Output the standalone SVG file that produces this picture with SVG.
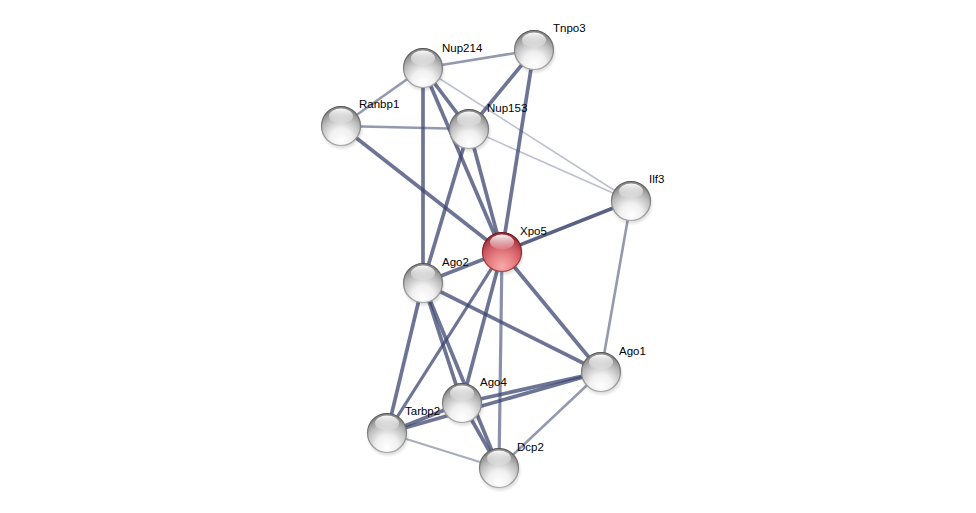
<svg xmlns="http://www.w3.org/2000/svg" width="976" height="513" viewBox="0 0 976 513">
<defs>
<radialGradient id="gBall" cx="50%" cy="80%" r="72%" fx="50%" fy="88%">
<stop offset="0" stop-color="#ffffff"/>
<stop offset="0.4" stop-color="#f0f0f0"/>
<stop offset="0.75" stop-color="#bdbdbd"/>
<stop offset="1" stop-color="#8a8a8a"/>
</radialGradient>
<radialGradient id="rBall" cx="50%" cy="80%" r="72%" fx="50%" fy="88%">
<stop offset="0" stop-color="#f8aaaa"/>
<stop offset="0.4" stop-color="#e88286"/>
<stop offset="0.75" stop-color="#cc5860"/>
<stop offset="1" stop-color="#a03038"/>
</radialGradient>
<linearGradient id="gStroke" x1="0" y1="0" x2="0" y2="1">
<stop offset="0" stop-color="#555"/>
<stop offset="1" stop-color="#aaa"/>
</linearGradient>
<linearGradient id="rStroke" x1="0" y1="0" x2="0" y2="1">
<stop offset="0" stop-color="#6a1018"/>
<stop offset="1" stop-color="#a8464c"/>
</linearGradient>
<linearGradient id="hl" x1="0" y1="0" x2="0" y2="1">
<stop offset="0" stop-color="#ffffff" stop-opacity="0.95"/>
<stop offset="1" stop-color="#ffffff" stop-opacity="0.1"/>
</linearGradient>
<radialGradient id="shadow" cx="50%" cy="50%" r="50%">
<stop offset="0.7" stop-color="#000" stop-opacity="0.2"/>
<stop offset="1" stop-color="#000" stop-opacity="0"/>
</radialGradient>
<symbol id="ball" overflow="visible">
<ellipse cx="1" cy="3" rx="22" ry="21.5" fill="url(#shadow)"/>
<circle r="19.5" fill="url(#gBall)" stroke="url(#gStroke)" stroke-width="1.2"/>
<ellipse cx="0" cy="-10" rx="12" ry="7.5" fill="url(#hl)"/>
</symbol>
<symbol id="rball" overflow="visible">
<ellipse cx="1" cy="3" rx="22" ry="21.5" fill="url(#shadow)"/>
<circle r="19.5" fill="url(#rBall)" stroke="url(#rStroke)" stroke-width="1.2"/>
<ellipse cx="0" cy="-10" rx="12" ry="7.5" fill="url(#hl)"/>
</symbol>
</defs>
<style>
.e{stroke:#3c4670;fill:none;stroke-linecap:butt}
.s{stroke-width:3.7;stroke-opacity:0.75}
.m{stroke-width:2.6;stroke-opacity:0.55}
.l{stroke-width:2;stroke-opacity:0.45}
.t{stroke-width:1.5;stroke-opacity:0.35}
text{font-family:"Liberation Sans",Arial,sans-serif;font-size:11.5px;fill:#000}
</style>
<rect width="976" height="513" fill="#ffffff"/>
<g id="edges">
<line class="e m" x1="423" y1="68" x2="534" y2="50"/>
<line class="e m" x1="423" y1="68" x2="341" y2="126"/>
<line class="e s" x1="423" y1="68" x2="469" y2="129"/>
<line class="e s" x1="423" y1="68" x2="502" y2="252"/>
<line class="e s" x1="423" y1="68" x2="423" y2="283"/>
<line class="e t" x1="423" y1="68" x2="631" y2="201"/>
<line class="e s" x1="534" y1="50" x2="469" y2="129"/>
<line class="e s" x1="534" y1="50" x2="502" y2="252"/>
<line class="e m" x1="341" y1="126" x2="469" y2="129"/>
<line class="e s" x1="341" y1="126" x2="502" y2="252"/>
<line class="e t" x1="469" y1="129" x2="631" y2="201"/>
<line class="e s" x1="469" y1="129" x2="502" y2="252"/>
<line class="e s" x1="469" y1="129" x2="423" y2="283"/>
<line class="e s" x1="502" y1="252" x2="631" y2="201" style="stroke-opacity:0.85"/>
<line class="e s" x1="502" y1="252" x2="423" y2="283"/>
<line class="e s" x1="502" y1="252" x2="601" y2="372"/>
<line class="e s" x1="502" y1="252" x2="462" y2="403"/>
<line class="e s" x1="502" y1="252" x2="387" y2="433" style="stroke-width:3.2"/>
<line class="e s" x1="502" y1="252" x2="499" y2="468" style="stroke-width:3.2;stroke-opacity:0.6"/>
<line class="e s" x1="423" y1="283" x2="601" y2="372"/>
<line class="e s" x1="423" y1="283" x2="462" y2="403"/>
<line class="e s" x1="423" y1="283" x2="387" y2="433"/>
<line class="e s" x1="423" y1="283" x2="499" y2="468"/>
<line class="e m" x1="631" y1="201" x2="601" y2="372"/>
<line class="e s" x1="601" y1="372" x2="462" y2="403"/>
<line class="e s" x1="601" y1="372" x2="387" y2="433"/>
<line class="e m" x1="601" y1="372" x2="499" y2="468"/>
<line class="e s" x1="462" y1="403" x2="387" y2="433"/>
<line class="e s" x1="462" y1="403" x2="499" y2="468"/>
<line class="e l" x1="387" y1="433" x2="499" y2="468"/>
</g>
<g id="Nup214"><use href="#ball" x="423" y="68"/><text x="442" y="52">Nup214</text></g>
<g id="Tnpo3"><use href="#ball" x="534" y="50"/><text x="553" y="32">Tnpo3</text></g>
<g id="Ranbp1"><use href="#ball" x="341" y="126"/><text x="359" y="108">Ranbp1</text></g>
<g id="Nup153"><use href="#ball" x="469" y="129"/><text x="487" y="112">Nup153</text></g>
<g id="Ilf3"><use href="#ball" x="631" y="201"/><text x="649" y="183">Ilf3</text></g>
<g id="Xpo5"><use href="#rball" x="502" y="252"/><text x="520" y="235">Xpo5</text></g>
<g id="Ago2"><use href="#ball" x="423" y="283"/><text x="442" y="266">Ago2</text></g>
<g id="Ago1"><use href="#ball" x="601" y="372"/><text x="619" y="355">Ago1</text></g>
<g id="Ago4"><use href="#ball" x="462" y="403"/><text x="480" y="386">Ago4</text></g>
<g id="Tarbp2"><use href="#ball" x="387" y="433"/><text x="405" y="415">Tarbp2</text></g>
<g id="Dcp2"><use href="#ball" x="499" y="468"/><text x="517" y="451">Dcp2</text></g>
</svg>
